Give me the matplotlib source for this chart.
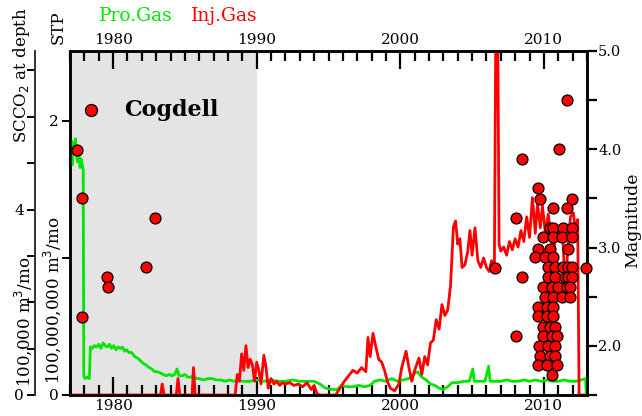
import numpy as np
import matplotlib
matplotlib.use("Agg")
import matplotlib.pyplot as plt
from matplotlib.ticker import MultipleLocator, FormatStrFormatter

plt.rcParams['font.family'] = ['DejaVu Serif']

# Produced gas (STP, 1e8 m3/month)
pro_year = [1977.00, 1977.08, 1977.15, 1977.22, 1977.30, 1977.38, 1977.46, 1977.54,
            1977.62, 1977.70, 1977.78, 1977.86, 1977.92, 1977.96, 1978.05, 1978.20,
            1978.35, 1978.42, 1978.55, 1978.70, 1978.85, 1979.00, 1979.15, 1979.30,
            1979.45, 1979.60, 1979.75, 1979.90, 1980.05, 1980.20, 1980.35, 1980.50,
            1980.65, 1980.80, 1980.95, 1981.10, 1981.30, 1981.50, 1981.70, 1981.90,
            1982.10, 1982.30, 1982.50, 1982.70, 1982.90, 1983.10, 1983.30, 1983.50,
            1983.70, 1983.90, 1984.10, 1984.30, 1984.45, 1984.60, 1984.80, 1985.00,
            1985.20, 1985.40, 1985.60, 1985.80, 1986.00, 1986.30, 1986.60, 1986.90,
            1987.20, 1987.50, 1987.80, 1988.10, 1988.40, 1988.70, 1989.00, 1989.50,
            1990.00, 1990.50, 1991.00, 1991.50, 1992.00, 1992.50, 1993.00, 1993.50,
            1994.00, 1994.40, 1994.80, 1995.20, 1995.60, 1995.90, 1996.30, 1996.70,
            1997.10, 1997.50, 1997.90, 1998.20, 1998.60, 1999.00, 1999.40, 1999.80,
            2000.20, 2000.60, 2000.90, 2001.20, 2001.50, 2001.80, 2002.10, 2002.40,
            2002.70, 2003.00, 2003.30, 2003.60, 2004.00, 2004.40, 2004.80, 2005.05,
            2005.15, 2005.50, 2005.90, 2006.15, 2006.25, 2006.60, 2007.00, 2007.40,
            2007.80, 2008.20, 2008.60, 2009.00, 2009.40, 2009.80, 2010.20, 2010.60,
            2011.00, 2011.40, 2011.80, 2012.20, 2012.60, 2012.90, 2012.95]
pro_gas = [1.75, 1.86, 1.68, 1.84, 1.80, 1.87, 1.74, 1.70,
           1.78, 1.66, 1.72, 1.68, 1.64, 0.14, 0.12, 0.13,
           0.12, 0.35, 0.34, 0.36, 0.35, 0.37, 0.34, 0.38,
           0.36, 0.35, 0.37, 0.34, 0.36, 0.33, 0.35, 0.34,
           0.35, 0.32, 0.33, 0.31, 0.31, 0.28, 0.27, 0.25,
           0.23, 0.22, 0.20, 0.19, 0.17, 0.17, 0.16, 0.15,
           0.14, 0.15, 0.14, 0.15, 0.19, 0.14, 0.14, 0.15,
           0.13, 0.13, 0.14, 0.12, 0.12, 0.11, 0.12, 0.12,
           0.11, 0.11, 0.10, 0.11, 0.10, 0.11, 0.10, 0.10,
           0.11, 0.10, 0.11, 0.10, 0.10, 0.11, 0.10, 0.10,
           0.10, 0.08, 0.05, 0.04, 0.04, 0.07, 0.06, 0.06,
           0.07, 0.06, 0.07, 0.10, 0.11, 0.10, 0.12, 0.10,
           0.11, 0.12, 0.15, 0.17, 0.13, 0.11, 0.08, 0.07,
           0.05, 0.04, 0.06, 0.09, 0.09, 0.10, 0.10, 0.19,
           0.10, 0.10, 0.10, 0.21, 0.10, 0.10, 0.10, 0.11,
           0.10, 0.10, 0.11, 0.10, 0.11, 0.10, 0.11, 0.10,
           0.10, 0.11, 0.10, 0.10, 0.11, 0.12, 0.00]

# Injected gas (STP, 1e8 m3/month)
inj_year = [1977.00, 1983.30, 1983.42, 1983.55, 1984.40, 1984.52, 1984.65, 1985.50,
            1985.60, 1985.72, 1988.50, 1988.65, 1988.80, 1988.95, 1989.10, 1989.25,
            1989.40, 1989.55, 1989.70, 1989.85, 1990.00, 1990.15, 1990.30, 1990.50,
            1990.65, 1990.80, 1991.00, 1991.20, 1991.40, 1991.60, 1991.80, 1992.00,
            1992.30, 1992.60, 1992.90, 1993.20, 1993.50, 1993.80, 1994.00, 1994.20,
            1994.40, 1995.50, 1995.80, 1996.10, 1996.40, 1996.70, 1997.00, 1997.30,
            1997.60, 1997.75, 1997.90, 1998.10, 1998.30, 1998.50, 1998.70, 1998.90,
            1999.10, 1999.30, 1999.60, 1999.90, 2000.10, 2000.40, 2000.60, 2000.80,
            2001.00, 2001.30, 2001.50, 2001.70, 2001.90, 2002.10, 2002.30, 2002.50,
            2002.70, 2002.90, 2003.10, 2003.30, 2003.50, 2003.70, 2003.85, 2004.00,
            2004.15, 2004.30, 2004.50, 2004.70, 2004.85, 2005.00, 2005.20, 2005.40,
            2005.60, 2005.80, 2006.00, 2006.20, 2006.35, 2006.55, 2006.65, 2006.78,
            2006.88, 2007.00, 2007.20, 2007.40, 2007.60, 2007.80, 2008.00, 2008.20,
            2008.40, 2008.60, 2008.80, 2009.00, 2009.20, 2009.40, 2009.55, 2009.75,
            2009.90, 2010.10, 2010.30, 2010.50, 2010.70, 2010.90, 2011.10, 2011.30,
            2011.50, 2011.65, 2011.85, 2012.05, 2012.20, 2012.35, 2012.45, 2013.00]
inj_gas = [0.00, 0.00, 0.08, 0.00, 0.00, 0.12, 0.00, 0.00,
           0.20, 0.00, 0.00, 0.15, 0.10, 0.30, 0.18, 0.36,
           0.20, 0.26, 0.22, 0.10, 0.24, 0.18, 0.08, 0.29,
           0.20, 0.05, 0.12, 0.08, 0.10, 0.07, 0.09, 0.08,
           0.09, 0.07, 0.08, 0.06, 0.09, 0.04, 0.07, 0.01,
           0.00, 0.00, 0.05, 0.10, 0.14, 0.18, 0.16, 0.20,
           0.17, 0.42, 0.28, 0.45, 0.35, 0.26, 0.24, 0.18,
           0.10, 0.05, 0.03, 0.08, 0.20, 0.32, 0.20, 0.10,
           0.18, 0.27, 0.15, 0.28, 0.22, 0.38, 0.40, 0.55,
           0.48, 0.66, 0.58, 0.62, 0.80, 1.23, 1.27, 1.10,
           1.14, 0.93, 0.95, 1.05, 1.20, 1.02, 1.22, 0.98,
           0.93, 1.00, 0.93, 0.90, 0.98, 0.92, 2.70, 2.70,
           1.10, 1.05, 1.08, 1.02, 1.12, 1.06, 1.14, 1.08,
           1.20, 1.12, 1.30, 1.15, 1.44, 1.18, 1.40, 1.22,
           1.38, 1.18, 1.32, 1.15, 1.08, 1.20, 1.12, 1.18,
           0.75, 1.05, 1.30, 1.33, 1.20, 1.28, 0.00, 0.00]

# Cogdell earthquakes
eq_year = [1977.46, 1977.87, 1982.89, 1982.26, 1979.55, 1979.62, 1977.87,
           2011.60, 2011.05, 2008.47, 2009.58, 2009.72, 2011.95, 2011.60, 2010.63,
           2008.05, 2006.58, 2008.47, 2012.93, 2008.05,
           2010.42, 2010.65, 2011.35, 2011.93,
           2009.95, 2010.65, 2011.23, 2011.93,
           2009.60, 2010.42, 2011.69,
           2009.37, 2010.07, 2010.65,
           2010.30, 2010.77, 2011.35, 2011.69, 2011.93,
           2010.30, 2010.77, 2011.46, 2011.69, 2011.93,
           2009.95, 2010.54, 2011.00, 2011.58, 2011.81,
           2010.07, 2010.65, 2011.23, 2011.81,
           2009.60, 2010.19, 2010.65,
           2009.60, 2010.19, 2010.65,
           2009.95, 2010.42, 2010.77,
           2009.95, 2010.54, 2010.88,
           2009.67, 2010.30, 2010.77,
           2009.72, 2010.42, 2010.77,
           2009.60, 2010.19, 2010.88,
           2010.54]
eq_mag = [3.99, 3.50, 3.30, 2.80, 2.70, 2.60, 2.29,
          4.50, 4.00, 3.90, 3.61, 3.49, 3.49, 3.40, 3.40,
          3.30, 2.79, 2.70, 2.79, 2.10,
          3.20, 3.20, 3.20, 3.20,
          3.11, 3.11, 3.11, 3.11,
          2.99, 2.99, 2.99,
          2.90, 2.90, 2.90,
          2.80, 2.80, 2.80, 2.80, 2.80,
          2.70, 2.70, 2.70, 2.70, 2.70,
          2.60, 2.60, 2.60, 2.60, 2.60,
          2.50, 2.50, 2.50, 2.50,
          2.40, 2.40, 2.40,
          2.30, 2.30, 2.30,
          2.19, 2.19, 2.19,
          2.10, 2.10, 2.10,
          2.00, 2.00, 2.00,
          1.90, 1.90, 1.90,
          1.81, 1.81, 1.81,
          1.70]

shade_start, shade_end = 1977.0, 1990.0
stp_max = 2.51           # STP axis, 1e8 m3/mo
depth_max = 7.42         # SCCO2 at depth, 1e5 m3/mo

fig = plt.figure(figsize=(6.42, 4.16), dpi=100)
ax = fig.add_axes([70 / 642, 21 / 416, 517 / 642, 344 / 416])

ax.axvspan(shade_start, shade_end, color='#e4e4e4', zorder=0, lw=0)
ax.plot(pro_year, pro_gas, color='#00e600', lw=2.0, zorder=3)
ax.plot(inj_year, inj_gas, color='red', lw=2.0, zorder=4)

ax.set_xlim(1977.0, 2013.0)
ax.set_ylim(0, stp_max)
ax.xaxis.set_major_locator(MultipleLocator(10))
ax.xaxis.set_minor_locator(MultipleLocator(1))
ax.tick_params(axis='x', which='both', direction='in', top=True, bottom=True,
               labeltop=True, labelbottom=True, width=1.6, labelsize=11)
ax.tick_params(axis='x', which='major', length=13, pad=3)
ax.tick_params(axis='x', which='minor', length=7)
ax.yaxis.set_major_locator(MultipleLocator(2))
ax.yaxis.set_minor_locator(MultipleLocator(1))
ax.tick_params(axis='y', which='both', direction='out', left=True, right=False,
               length=6, width=1.4, labelsize=11, pad=2)
for s in ax.spines.values():
    s.set_linewidth(1.8)

# SCCO2 at depth axis, offset to the left
ax_out = ax.twinx()
ax_out.set_ylim(0, depth_max)
ax_out.spines['left'].set_position(('axes', -35 / 517))
ax_out.spines['left'].set_visible(True)
ax_out.spines['left'].set_linewidth(1.4)
ax_out.spines['left'].set_color('#333333')
for side in ['right', 'top', 'bottom']:
    ax_out.spines[side].set_visible(False)
ax_out.yaxis.set_ticks_position('left')
ax_out.yaxis.set_major_locator(MultipleLocator(4))
ax_out.yaxis.set_minor_locator(MultipleLocator(1))
ax_out.tick_params(axis='y', which='both', direction='out', length=6, width=1.4,
                   labelsize=11, pad=2)

# Magnitude axis
ax_mag = ax.twinx()
ax_mag.set_ylim(1.5, 5.0)
ax_mag.yaxis.set_major_locator(MultipleLocator(1))
ax_mag.yaxis.set_minor_locator(MultipleLocator(0.5))
ax_mag.yaxis.set_major_formatter(FormatStrFormatter('%.1f'))
ax_mag.tick_params(axis='y', which='both', direction='out', length=7, width=1.6,
                   labelsize=10.5, pad=1)
for s in ax_mag.spines.values():
    s.set_linewidth(1.8)
ax_mag.scatter(eq_year, eq_mag, s=62, c='red', edgecolors='black', linewidths=0.9,
               zorder=5, clip_on=False, label='Cogdell')
ax_mag.legend(loc='center left', bbox_to_anchor=(0.019, 0.828), frameon=False,
              borderpad=0, borderaxespad=0, handlelength=1.0, handletextpad=1.0,
              markerscale=1.1, prop={'weight': 'bold', 'size': 16})

fig.text(0.986, 0.471, 'Magnitude', rotation=90, ha='center', va='center', fontsize=12.5)
fig.text(0.034, 0.82, 'SCCO$_2$ at depth', rotation=90, ha='center', va='center', fontsize=12)
fig.text(0.036, 0.226, '100,000 m$^3$/mo', rotation=90, ha='center', va='center', fontsize=12)
fig.text(0.082, 0.279, '100,000,000 m$^3$/mo', rotation=90, ha='center', va='center', fontsize=12)
fig.text(0.090, 0.935, 'STP', rotation=90, ha='center', va='center', fontsize=12)
fig.text(0.212, 0.962, 'Pro.Gas', ha='center', va='center', fontsize=13.5, color='#00e600')
fig.text(0.350, 0.962, 'Inj.Gas', ha='center', va='center', fontsize=13.5, color='red')

fig.savefig('out.png', dpi=100)
